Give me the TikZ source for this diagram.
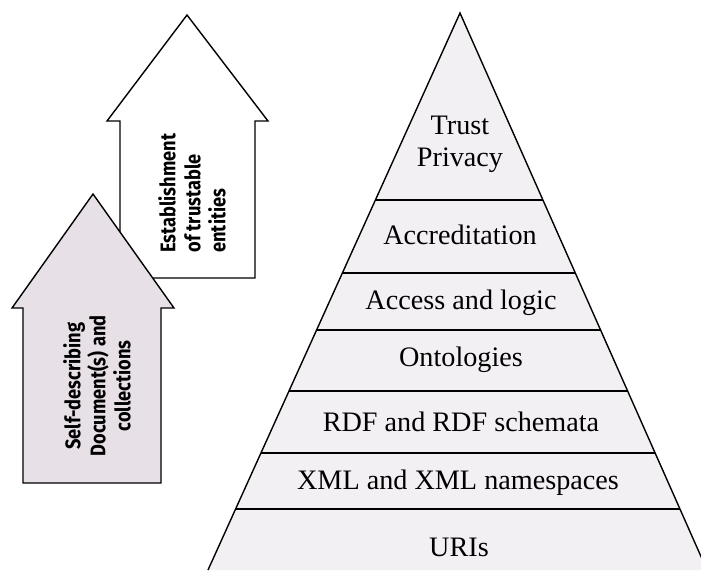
\documentclass[tikz,border=0pt]{standalone}
\usepackage{fontspec}
\setmainfont{Liberation Serif}
\newfontfamily\arrowfont[FakeStretch=0.86]{Fira Sans}
\usetikzlibrary{calc}
\definecolor{arrowpink}{RGB}{231,224,230}
\definecolor{pyrfill}{RGB}{243,240,243}
\tikzset{
	layer/.style={font=\fontsize{14.1}{16.2}\selectfont, align=center, inner sep=0pt},
	arrowtext/.style={font=\arrowfont\bfseries\fontsize{10.6}{12.5}\selectfont, rotate=90, inner sep=0pt},
	outline/.style={draw, line width=0.7pt, line join=miter},
}
\begin{document}
\begin{tikzpicture}[x=0.5pt, y=-0.5pt]
	\clip (0,0) rectangle (701,570);
	\draw [outline, fill=white] (187,15) -- (268,121) -- (255,121) -- (255,278) -- (120,278) -- (120,121) -- (107,121) -- cycle;
	\node [arrowtext, anchor=west, align=left] (trustable) at (192,253) {Establishment\\of trustable\\entities};
	\draw [outline, fill=arrowpink] (93,194) -- (174,308) -- (161,308) -- (161,483) -- (23,483) -- (23,308) -- (12,308) -- cycle;
	\node [arrowtext, align=center] (selfdesc) at (97,386) {Self-describing\\Document(s) and\\collections};
	\coordinate (apex) at (460,13);
	\coordinate (baseleft) at (208,570);
	\coordinate (baseright) at (707,570);
	\draw [outline, fill=pyrfill] (baseleft) -- (apex) -- (baseright);
	\foreach \y in {200,273,330,391,453,509}
		\draw [outline] ($(apex)!{(\y-13)/557}!(baseleft)$) -- ($(apex)!{(\y-13)/557}!(baseright)$);
	\node [layer] (trust) at (460,144) {Trust\\Privacy};
	\node [layer] (accred) at (460,235) {Accreditation};
	\node [layer] (access) at (461,303) {Access and logic};
	\node [layer] (onto) at (461,360) {Ontologies};
	\node [layer] (rdf) at (461,422) {RDF and RDF schemata};
	\node [layer] (xml) at (458,483) {XML and XML namespaces};
	\node [layer] (uris) at (459,547) {URIs};
\end{tikzpicture}
\end{document}
